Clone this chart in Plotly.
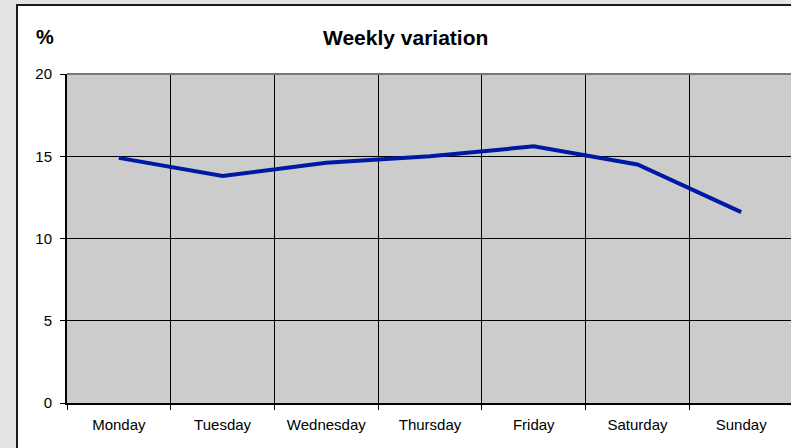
import plotly.graph_objects as go

# Weekly variation, share of the week in percent
days = ['Monday', 'Tuesday', 'Wednesday', 'Thursday', 'Friday', 'Saturday', 'Sunday']
share = [14.9, 13.8, 14.6, 15.0, 15.6, 14.5, 11.6]
y_ticks = [0, 5, 10, 15, 20]

W, H = 791, 448
L, T, B = 67, 74, 45
pw, ph = W - L, H - T - B


def px(x):
    return (x - L) / pw


def py(y):
    return (H - B - y) / ph


font = 'Liberation Sans, Arial, sans-serif'

fig = go.Figure()
fig.add_trace(go.Scatter(
    x=days, y=share, mode='lines',
    line=dict(color='#0019a5', width=4),
    hoverinfo='x+y',
))

fig.update_layout(
    width=W, height=H,
    margin=dict(l=L, r=0, t=T, b=B, pad=0),
    paper_bgcolor='white',
    plot_bgcolor='#cccccc',
    showlegend=False,
    font=dict(family=font, size=15, color='black'),
    xaxis=dict(
        type='category', range=[-0.5, 6.48],
        tickson='boundaries', ticks='outside', ticklen=5, tickcolor='black',
        showgrid=True, gridcolor='black', gridwidth=1,
        showline=True, linecolor='black', linewidth=2,
        tickfont=dict(size=15),
        ticklabelstandoff=7,
    ),
    yaxis=dict(
        range=[0, 20], tickvals=y_ticks,
        ticks='outside', ticklen=5, tickcolor='black',
        showgrid=True, gridcolor='black', gridwidth=1,
        zeroline=False,
        showline=True, linecolor='black', linewidth=2,
        tickfont=dict(size=15),
        ticklabelstandoff=5,
    ),
    shapes=[
        # grey surround of the white panel
        dict(type='rect', xref='paper', yref='paper',
             x0=px(0), x1=px(17), y0=py(H), y1=py(0),
             fillcolor='#e4e4e4', line_width=0),
        dict(type='rect', xref='paper', yref='paper',
             x0=px(0), x1=px(W), y0=py(5), y1=py(0),
             fillcolor='#e4e4e4', line_width=0),
        # panel border
        dict(type='rect', xref='paper', yref='paper',
             x0=px(17), x1=px(W + 10), y0=py(H + 10), y1=py(5),
             fillcolor='rgba(0,0,0,0)',
             line=dict(color='#1a1a1a', width=2)),
        # top edge of plot area
        dict(type='line', xref='paper', yref='paper',
             x0=0, x1=1, y0=1, y1=1,
             line=dict(color='#777777', width=2)),
    ],
    annotations=[
        dict(text='<b>Weekly variation</b>', xref='paper', yref='paper',
             x=px(405), y=py(37), xanchor='center', yanchor='middle',
             showarrow=False, font=dict(size=21)),
        dict(text='<b>%</b>', xref='paper', yref='paper',
             x=px(45), y=py(37), xanchor='center', yanchor='middle',
             showarrow=False, font=dict(size=20)),
    ],
)

# drop the default page margin so the figure sits at the window corner
fig.write_html('out.html', config={'displayModeBar': False},
               post_script="document.body.style.margin='0';")
